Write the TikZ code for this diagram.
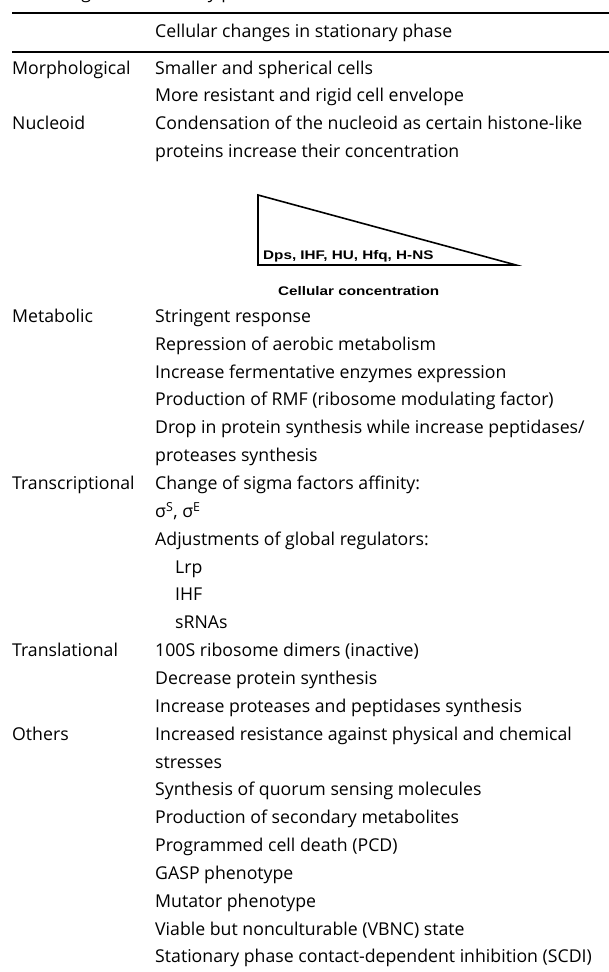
\documentclass[tikz,border=0pt]{standalone}
\usepackage{fontspec}
\setmainfont{Open Sans}
\newfontfamily\lblfont{Liberation Sans}
\tikzset{
  body/.style={anchor=base west, inner sep=0pt, font=\fontsize{17.7}{20}\selectfont},
  lbl/.style={anchor=base west, inner sep=0pt, font=\lblfont\bfseries\fontsize{12.5}{14}\selectfont},
  rulethick/.style={line width=2.6pt},
  rulethin/.style={line width=2pt},
  tri/.style={line width=1.6pt, line join=miter}
}
\begin{document}
\begin{tikzpicture}[x=1pt,y=-1pt]
\useasboundingbox (0,0) rectangle (609,972);
% caption (cut off at the top)
\begin{scope}
\clip (0,0) rectangle (609,8);
\node[body] (cap) at (38.5,-1.5) {Changes in stationary phase};
\end{scope}
% rules
\coordinate (r1a) at (12,13); \coordinate (r1b) at (609,13);
\coordinate (r2a) at (12,51.5); \coordinate (r2b) at (609,51.5);
\draw[rulethick] (r1a) -- (r1b);
\draw[rulethin] (r2a) -- (r2b);
\node[body] (head) at (155,37.5) {Cellular changes in stationary phase};
% rows
\def\L{12}\def\R{155}\def\I{175}
\node[body] (morph) at (\L,74) {Morphological};
\node[body] (m1) at (\R,74) {Smaller and spherical cells};
\node[body] (m2) at (\R,101.85) {More resistant and rigid cell envelope};
\node[body] (nuc) at (\L,129.7) {Nucleoid};
\node[body] (n1) at (\R,129.7) {Condensation of the nucleoid as certain histone-like};
\node[body] (n2) at (\R,157.55) {proteins increase their concentration};
% triangle
\coordinate (ta) at (258,195);
\coordinate (tb) at (258,265);
\coordinate (tc) at (516,265);
\draw[tri] (tb) -- (ta) -- (tc) -- cycle;
\node[lbl] (dps) at (263,259) {\scalebox{1.22}[1]{Dps, IHF, HU, Hfq, H-NS}};
\node[lbl] (cc) at (278,295) {\scalebox{1.22}[1]{Cellular concentration}};
% metabolic
\node[body] (met) at (\L,322.4) {Metabolic};
\node[body] (e1) at (\R,322.4) {Stringent response};
\node[body] (e2) at (\R,350.25) {Repression of aerobic metabolism};
\node[body] (e3) at (\R,378.1) {Increase fermentative enzymes expression};
\node[body] (e4) at (\R,405.95) {Production of RMF (ribosome modulating factor)};
\node[body] (e5) at (\R,433.8) {Drop in protein synthesis while increase peptidases/};
\node[body] (e6) at (\R,461.65) {proteases synthesis};
% transcriptional
\node[body] (tra) at (\L,489.5) {Transcriptional};
\node[body] (t1) at (\R,489.5) {Change of sigma factors affinity:};
\node[body] (t2) at (\R,517.35) {σ\textsuperscript{S}, σ\textsuperscript{E}};
\node[body] (t3) at (\R,545.2) {Adjustments of global regulators:};
\node[body] (t4) at (\I,573.05) {Lrp};
\node[body] (t5) at (\I,600.9) {IHF};
\node[body] (t6) at (\I,628.75) {sRNAs};
% translational
\node[body] (trl) at (\L,656.6) {Translational};
\node[body] (l1) at (\R,656.6) {100S ribosome dimers (inactive)};
\node[body] (l2) at (\R,684.45) {Decrease protein synthesis};
\node[body] (l3) at (\R,712.3) {Increase proteases and peptidases synthesis};
% others
\node[body] (oth) at (\L,740.15) {Others};
\node[body] (o1) at (\R,740.15) {Increased resistance against physical and chemical};
\node[body] (o2) at (\R,768.0) {stresses};
\node[body] (o3) at (\R,795.85) {Synthesis of quorum sensing molecules};
\node[body] (o4) at (\R,823.7) {Production of secondary metabolites};
\node[body] (o5) at (\R,851.55) {Programmed cell death (PCD)};
\node[body] (o6) at (\R,879.4) {GASP phenotype};
\node[body] (o7) at (\R,907.25) {Mutator phenotype};
\node[body] (o8) at (\R,935.1) {Viable but nonculturable (VBNC) state};
\node[body] (o9) at (\R,962.95) {Stationary phase contact-dependent inhibition (SCDI)};
\end{tikzpicture}
\end{document}
